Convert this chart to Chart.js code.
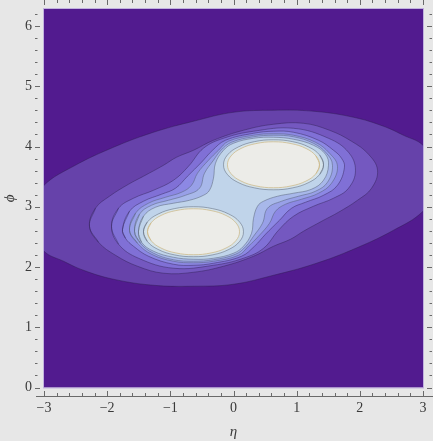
<!DOCTYPE html>
<html>
<head>
<meta charset="utf-8">
<script src="https://cdn.jsdelivr.net/npm/chart.js@4.4.0/dist/chart.umd.min.js"></script>
<style>
  html, body { margin: 0; padding: 0; background: #e7e7e7; }
  canvas { display: block; }
</style>
</head>
<body>
<canvas id="contourChart" width="433" height="441"></canvas>
<script>
// tick labels
const etaTicks = [-3, -2, -1, 0, 1, 2, 3];
const phiTicks = [0, 1, 2, 3, 4, 5, 6];

// contour lines as [eta, phi], outermost level first
const level1 = [[-3.404, 2.810], [-3.000, 3.358], [-2.533, 3.673], [-1.900, 3.988], [-1.266, 4.237], [-0.633, 4.420], [0.000, 4.569], [0.633, 4.602], [1.266, 4.586], [1.900, 4.486], [2.375, 4.337], [2.691, 4.187], [3.000, 4.021], [3.404, 3.474], [3.000, 2.925], [2.533, 2.610], [1.900, 2.295], [1.266, 2.046], [0.633, 1.863], [0.000, 1.714], [-0.633, 1.681], [-1.266, 1.697], [-1.900, 1.797], [-2.375, 1.946], [-2.691, 2.096], [-3.000, 2.262]];
const level2 = [[-2.280, 2.677], [-2.185, 2.976], [-1.963, 3.175], [-1.662, 3.374], [-1.425, 3.507], [-1.108, 3.689], [-0.902, 3.822], [-0.633, 3.938], [-0.317, 4.104], [0.158, 4.270], [0.633, 4.370], [1.108, 4.386], [1.520, 4.270], [1.868, 4.088], [2.137, 3.872], [2.280, 3.606], [2.185, 3.307], [1.963, 3.108], [1.662, 2.909], [1.425, 2.776], [1.108, 2.594], [0.902, 2.461], [0.633, 2.345], [0.317, 2.179], [-0.158, 2.013], [-0.633, 1.913], [-1.108, 1.897], [-1.520, 2.013], [-1.868, 2.195], [-2.137, 2.411]];
const level3 = [[-1.931, 2.677], [-1.820, 2.976], [-1.583, 3.142], [-1.266, 3.274], [-0.950, 3.440], [-0.712, 3.673], [-0.475, 3.972], [-0.158, 4.137], [0.317, 4.254], [0.950, 4.303], [1.504, 4.137], [1.820, 3.905], [1.931, 3.606], [1.820, 3.307], [1.583, 3.142], [1.266, 3.009], [0.950, 2.843], [0.712, 2.610], [0.475, 2.311], [0.158, 2.146], [-0.317, 2.029], [-0.950, 1.980], [-1.504, 2.146], [-1.820, 2.378]];
const level4 = [[-1.757, 2.627], [-1.646, 2.926], [-1.425, 3.092], [-1.140, 3.208], [-0.918, 3.308], [-0.728, 3.507], [-0.507, 3.739], [-0.332, 3.938], [-0.127, 4.104], [0.317, 4.220], [0.633, 4.254], [0.950, 4.237], [1.346, 4.104], [1.583, 3.938], [1.710, 3.806], [1.757, 3.656], [1.646, 3.357], [1.425, 3.191], [1.140, 3.075], [0.918, 2.975], [0.728, 2.776], [0.507, 2.544], [0.332, 2.345], [0.127, 2.179], [-0.317, 2.063], [-0.633, 2.029], [-0.950, 2.046], [-1.346, 2.179], [-1.583, 2.345], [-1.710, 2.477]];
const level5 = [[-1.646, 2.610], [-1.551, 2.893], [-1.346, 3.059], [-1.076, 3.158], [-0.823, 3.241], [-0.665, 3.357], [-0.570, 3.557], [-0.396, 3.772], [-0.237, 3.938], [-0.079, 4.088], [0.317, 4.187], [0.633, 4.212], [0.950, 4.187], [1.298, 4.071], [1.520, 3.889], [1.646, 3.673], [1.551, 3.390], [1.346, 3.225], [1.076, 3.125], [0.823, 3.042], [0.665, 2.926], [0.570, 2.726], [0.396, 2.511], [0.237, 2.345], [0.079, 2.195], [-0.317, 2.096], [-0.633, 2.071], [-0.950, 2.096], [-1.298, 2.212], [-1.520, 2.395]];
const level6 = [[-1.567, 2.594], [-1.488, 2.876], [-1.298, 3.025], [-1.029, 3.108], [-0.760, 3.191], [-0.538, 3.308], [-0.459, 3.557], [-0.317, 3.772], [-0.198, 3.938], [-0.032, 4.071], [0.317, 4.162], [0.633, 4.187], [0.950, 4.162], [1.266, 4.054], [1.472, 3.889], [1.567, 3.689], [1.488, 3.407], [1.298, 3.258], [1.029, 3.175], [0.760, 3.092], [0.538, 2.975], [0.459, 2.727], [0.317, 2.511], [0.198, 2.345], [0.032, 2.212], [-0.317, 2.121], [-0.633, 2.096], [-0.950, 2.121], [-1.266, 2.229], [-1.472, 2.394]];
const level7 = [[-1.504, 2.594], [-1.425, 2.843], [-1.235, 2.992], [-0.950, 3.059], [-0.697, 3.108], [-0.475, 3.191], [-0.380, 3.274], [-0.317, 3.474], [-0.285, 3.723], [-0.158, 3.938], [0.000, 4.055], [0.317, 4.137], [0.633, 4.154], [0.950, 4.121], [1.266, 4.021], [1.456, 3.872], [1.504, 3.689], [1.425, 3.440], [1.235, 3.291], [0.950, 3.225], [0.697, 3.175], [0.475, 3.092], [0.380, 3.009], [0.317, 2.809], [0.285, 2.560], [0.158, 2.345], [0.000, 2.229], [-0.317, 2.146], [-0.633, 2.129], [-0.950, 2.162], [-1.266, 2.262], [-1.456, 2.411]];
const level8Lower = [[-1.425, 2.586], [-1.365, 2.745], [-1.194, 2.879], [-0.936, 2.969], [-0.633, 3.001], [-0.331, 2.969], [-0.073, 2.879], [0.098, 2.745], [0.158, 2.586], [0.098, 2.426], [-0.073, 2.292], [-0.331, 2.202], [-0.633, 2.171], [-0.936, 2.202], [-1.194, 2.292], [-1.365, 2.426]];
const level8Upper = [[1.425, 3.697], [1.365, 3.538], [1.194, 3.404], [0.936, 3.314], [0.633, 3.282], [0.331, 3.314], [0.073, 3.404], [-0.098, 3.538], [-0.158, 3.697], [-0.098, 3.857], [0.073, 3.991], [0.331, 4.081], [0.633, 4.112], [0.936, 4.081], [1.194, 3.991], [1.365, 3.857]];
const level9Lower = [[-1.361, 2.586], [-1.306, 2.732], [-1.148, 2.856], [-0.912, 2.937], [-0.633, 2.967], [-0.355, 2.937], [-0.119, 2.856], [0.040, 2.732], [0.095, 2.586], [0.040, 2.440], [-0.119, 2.315], [-0.355, 2.234], [-0.633, 2.204], [-0.912, 2.234], [-1.148, 2.315], [-1.306, 2.440]];
const level9Upper = [[1.361, 3.697], [1.306, 3.551], [1.148, 3.427], [0.912, 3.346], [0.633, 3.316], [0.355, 3.346], [0.119, 3.427], [-0.040, 3.551], [-0.095, 3.697], [-0.040, 3.843], [0.119, 3.968], [0.355, 4.049], [0.633, 4.079], [0.912, 4.049], [1.148, 3.968], [1.306, 3.843]];

const bgColor = '#521b8f';
const purpleLine = 'rgba(45, 30, 80, 0.55)';
const blueLine = 'rgba(80, 90, 110, 0.6)';
const tanLine = 'rgba(205, 185, 135, 0.95)';

const contours = [
  { pts: level1, fill: '#6642aa', line: purpleLine },
  { pts: level2, fill: '#7458c0', line: purpleLine },
  { pts: level3, fill: '#8070d6', line: purpleLine },
  { pts: level4, fill: '#8c88e4', line: purpleLine },
  { pts: level5, fill: '#98a0e8', line: blueLine },
  { pts: level6, fill: '#a8b8ea', line: blueLine },
  { pts: level7, fill: '#c0d4ea', line: blueLine },
  { pts: level8Lower, fill: '#d4e2ea', line: blueLine },
  { pts: level8Upper, fill: '#d4e2ea', line: blueLine },
  { pts: level9Lower, fill: '#ecece8', line: tanLine },
  { pts: level9Upper, fill: '#ecece8', line: tanLine }
];

// closed loop: wrap a point on each side so the spline has no corner at the seam
function closeLoop(pts) {
  const n = pts.length;
  return [pts[n - 1], ...pts, pts[0], pts[1]].map(p => ({ x: p[0], y: p[1] }));
}

const serif = 'Liberation Serif';
const labelColor = '#3a3a3a';
const tickColor = '#6a6a6a';

const framePlugin = {
  id: 'frame',
  beforeDatasetsDraw(chart) {
    const { ctx, chartArea: a } = chart;
    ctx.save();
    ctx.fillStyle = bgColor;
    ctx.fillRect(a.left, a.top, a.right - a.left, a.bottom - a.top);
    ctx.restore();
  },
  afterDraw(chart) {
    const { ctx, chartArea: a, scales: { x, y } } = chart;
    ctx.save();
    // thin light edge round the plot
    ctx.strokeStyle = 'rgba(190, 172, 222, 0.9)';
    ctx.lineWidth = 1;
    ctx.strokeRect(a.left - 0.5, a.top - 0.5, a.right - a.left + 1, a.bottom - a.top + 1);

    ctx.strokeStyle = tickColor;
    ctx.beginPath();
    ctx.moveTo(36, 396.5);
    ctx.lineTo(433, 396.5);
    for (let k = -15; k <= 15; k++) {
      const px = Math.round(x.getPixelForValue(k / 5)) + 0.5;
      const major = k % 5 === 0;
      ctx.moveTo(px, 396);
      ctx.lineTo(px, major ? 391 : 393);
      ctx.moveTo(px, 0);
      ctx.lineTo(px, major ? 5 : 3);
    }
    for (let k = 0; k <= 31; k++) {
      const py = Math.round(y.getPixelForValue(k / 5)) + 0.5;
      const major = k % 5 === 0;
      ctx.moveTo(35, py);
      ctx.lineTo(major ? 40 : 37.5, py);
      ctx.moveTo(432, py);
      ctx.lineTo(major ? 427 : 429.5, py);
    }
    ctx.stroke();
    ctx.restore();
  }
};

new Chart(document.getElementById('contourChart'), {
  type: 'scatter',
  data: {
    datasets: contours.map((c, i) => ({
      data: closeLoop(c.pts),
      showLine: true,
      fill: 'shape',
      backgroundColor: c.fill,
      borderColor: c.line,
      borderWidth: 0.8,
      tension: 0.4,
      pointRadius: 0,
      pointHoverRadius: 0,
      order: contours.length - i
    }))
  },
  options: {
    responsive: false,
    animation: false,
    layout: { padding: 0 },
    plugins: {
      legend: { display: false },
      tooltip: { enabled: false }
    },
    scales: {
      x: {
        type: 'linear',
        position: 'bottom',
        min: -3,
        max: 3,
        afterFit: s => { s.height = 53.5; s.paddingLeft = 0; s.paddingRight = 10; },
        afterBuildTicks: s => { s.ticks = etaTicks.map(v => ({ value: v })); },
        grid: { display: false, drawTicks: false },
        border: { display: false },
        ticks: {
          padding: 12,
          maxRotation: 0,
          color: labelColor,
          font: { family: serif, size: 14 },
          callback: v => v < 0 ? '\u2212' + Math.abs(v) : String(v)
        },
        title: {
          display: true,
          text: 'η',
          color: labelColor,
          padding: 0,
          font: { family: serif, size: 15, style: 'italic' }
        }
      },
      y: {
        type: 'linear',
        position: 'left',
        min: 0,
        max: 2 * Math.PI,
        afterFit: s => { s.width = 44; s.paddingTop = 9; s.paddingBottom = 0; },
        afterBuildTicks: s => { s.ticks = phiTicks.map(v => ({ value: v })); },
        grid: { display: false, drawTicks: false },
        border: { display: false },
        ticks: {
          padding: 12,
          color: labelColor,
          font: { family: serif, size: 14 }
        },
        title: {
          display: true,
          text: 'ϕ',
          color: labelColor,
          padding: { top: 1, bottom: 0 },
          font: { family: serif, size: 15, style: 'italic' }
        }
      }
    }
  },
  plugins: [framePlugin]
});
</script>
</body>
</html>
